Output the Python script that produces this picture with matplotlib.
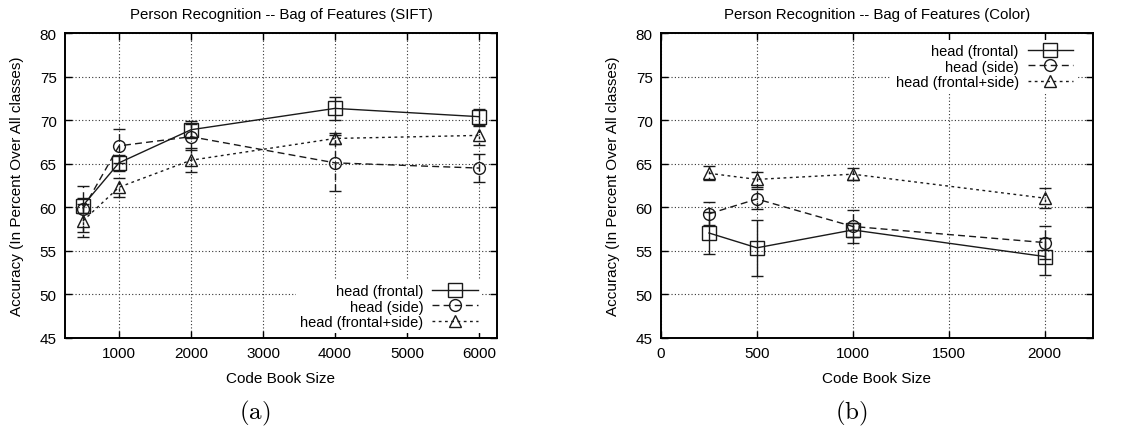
import numpy as np
import matplotlib
matplotlib.use('Agg')
import matplotlib.pyplot as plt
from matplotlib.lines import Line2D

plt.rcParams['font.family'] = ['Liberation Sans', 'DejaVu Sans']
plt.rcParams['mathtext.fontset'] = 'cm'

# SIFT code book results
sift_sizes = [500, 1000, 2000, 4000, 6000]
sift_frontal = [60.2, 65.1, 68.9, 71.35, 70.4]
sift_frontal_err = [0.9, 0.9, 1.0, 1.3, 0.9]
sift_side = [59.8, 67.05, 68.1, 65.1, 64.5]
sift_side_err = [2.6, 1.95, 1.5, 3.2, 1.6]
sift_both = [58.45, 62.3, 65.4, 67.9, 68.25]
sift_both_err = [1.9, 1.1, 1.4, 0.6, 1.1]

# color code book results
color_sizes = [250, 500, 1000, 2000]
color_frontal = [57.05, 55.35, 57.4, 54.35]
color_frontal_err = [2.4, 3.2, 0.8, 2.1]
color_side = [59.25, 60.95, 57.8, 55.95]
color_side_err = [1.3, 1.1, 1.9, 1.9]
color_both = [63.9, 63.2, 63.8, 61.05]
color_both_err = [0.8, 0.9, 0.7, 1.15]

labels = ['head (frontal)', 'head (side)', 'head (frontal+side)']
markers = ['s', 'o', '^']
msizes = [9.5, 8.5, 8.5]
styles = ['-', (0, (5, 3)), (0, (2, 2.5))]
ink = '#1a1a1a'


def draw_panel(ax, sizes, series, title, xlim, xticks, legend_loc, anchor):
    handles = []
    for (vals, errs), lab, mk, ms, ls in zip(series, labels, markers, msizes, styles):
        eb = ax.errorbar(sizes, vals, yerr=errs, color=ink, lw=1.0,
                         linestyle=ls, marker=mk, markersize=ms,
                         markerfacecolor='none', markeredgewidth=1.0,
                         capsize=4.5, capthick=1.0, zorder=3)
        for col in eb[2]:
            col.set_linestyle(ls)
        handles.append(Line2D([], [], color=ink, lw=1.0, linestyle=ls, marker=mk,
                              markersize=ms, markerfacecolor='none',
                              markeredgewidth=1.0, label=lab))
    ax.set_xlim(*xlim)
    ax.set_ylim(45, 80)
    ax.set_xticks(xticks)
    ax.set_yticks(np.arange(45, 81, 5))
    ax.grid(True, color='#333333', linestyle=(0, (1, 2)), lw=0.8)
    ax.set_axisbelow(True)
    ax.tick_params(direction='in', top=True, right=True, labelsize=11,
                   length=5, width=1.0, pad=6)
    for sp in ax.spines.values():
        sp.set_linewidth(1.4)
    ax.set_title(title, fontsize=10.8, pad=11)
    ax.set_xlabel('Code Book Size', fontsize=11, labelpad=8)
    ax.set_ylabel('Accuracy (In Percent Over All classes)', fontsize=11, labelpad=11)
    leg = ax.legend(handles=handles, loc=legend_loc, bbox_to_anchor=anchor,
                    markerfirst=False, fontsize=10.5,
                    handlelength=3.1, handletextpad=0.6, labelspacing=0.1,
                    borderaxespad=0.0, framealpha=1.0, fancybox=False,
                    edgecolor='none', facecolor='white', borderpad=0.3)
    leg.set_zorder(4)


fig = plt.figure(figsize=(11.42, 4.35), dpi=100)
ax1 = fig.add_axes([0.0569, 0.2207, 0.3783, 0.7011])
ax2 = fig.add_axes([0.5788, 0.2207, 0.3780, 0.7011])

draw_panel(ax1, sift_sizes,
           [(sift_frontal, sift_frontal_err), (sift_side, sift_side_err), (sift_both, sift_both_err)],
           'Person Recognition -- Bag of Features (SIFT)', (250, 6250),
           [1000, 2000, 3000, 4000, 5000, 6000], 'lower right', (0.965, 0.015))
draw_panel(ax2, color_sizes,
           [(color_frontal, color_frontal_err), (color_side, color_side_err), (color_both, color_both_err)],
           'Person Recognition -- Bag of Features (Color)', (0, 2250),
           [0, 500, 1000, 1500, 2000], 'upper right', (0.964, 0.978))

fig.text(255 / 1142, 1 - 413 / 435, r'$(\mathrm{a})$', ha='center', va='center', fontsize=18)
fig.text(851 / 1142, 1 - 413 / 435, r'$(\mathrm{b})$', ha='center', va='center', fontsize=18)

fig.savefig('out.png', dpi=100)
